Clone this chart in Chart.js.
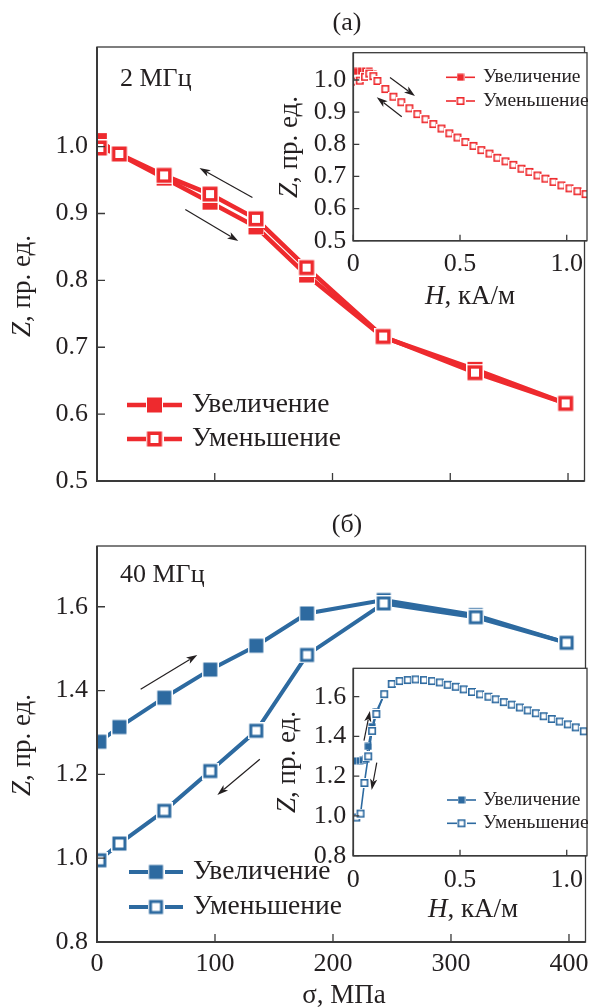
<!DOCTYPE html>
<html>
<head>
<meta charset="utf-8">
<script src="https://cdn.jsdelivr.net/npm/chart.js@4.4.0/dist/chart.umd.min.js"></script>
<style>
  html, body { margin: 0; padding: 0; background: #fff; }
  #page { position: relative; width: 598px; height: 1007px; overflow: hidden; }
  .box { position: absolute; }
</style>
</head>
<body>
<div id="page">
  <div class="box" style="left:0;top:0;width:598px;height:500px"><canvas id="mainA"></canvas></div>
  <div class="box" style="left:0;top:500px;width:598px;height:507px"><canvas id="mainB"></canvas></div>
  <div class="box" style="left:250px;top:40px;width:348px;height:280px"><canvas id="insetA"></canvas></div>
  <div class="box" style="left:250px;top:655px;width:348px;height:275px"><canvas id="insetB"></canvas></div>
</div>
<script>
// main panels: Z vs sigma
const sigmaMPa = [2, 19, 57, 96, 135, 178, 243, 321, 398];
const z2Up     = [1.009, 0.988, 0.953, 0.917, 0.880, 0.808, 0.715, 0.667, 0.616];
const z2Down   = [0.998, 0.989, 0.957, 0.929, 0.892, 0.819, 0.716, 0.662, 0.616];
const z40Up    = [1.278, 1.313, 1.383, 1.450, 1.507, 1.584, 1.616, 1.580, 1.514];
const z40Down  = [0.995, 1.035, 1.113, 1.208, 1.304, 1.485, 1.608, 1.575, 1.514];

// inset (a): Z vs H at 2 MHz
const hA_up   = [0.0, 0.018, 0.037, 0.056, 0.075, 0.094, 0.113, 0.15];
const zA_up   = [1.027, 1.027, 1.028, 1.028, 1.027, 1.018, 0.998, 0.972];
const hA_down = [0.01, 0.03, 0.055, 0.075, 0.094, 0.113, 0.15, 0.188, 0.225, 0.263, 0.3, 0.338, 0.375,
                 0.413, 0.45, 0.488, 0.525, 0.563, 0.6, 0.638, 0.675, 0.713, 0.75, 0.788, 0.825, 0.863,
                 0.9, 0.938, 0.975, 1.013, 1.05, 1.088];
const zA_down = [0.995, 0.998, 1.01, 1.02, 1.012, 0.997, 0.972, 0.948, 0.931, 0.912, 0.894, 0.878, 0.863,
                 0.849, 0.834, 0.821, 0.807, 0.795, 0.782, 0.771, 0.758, 0.747, 0.736, 0.724, 0.714, 0.703,
                 0.693, 0.683, 0.672, 0.663, 0.654, 0.645];

// inset (b): Z vs H at 40 MHz
const hB_up   = [0.003, 0.016, 0.03, 0.045, 0.058, 0.07, 0.088, 0.108, 0.145];
const zB_up   = [1.277, 1.277, 1.278, 1.28, 1.285, 1.35, 1.45, 1.525, 1.613];
const hB_down = [0.014, 0.034, 0.052, 0.07, 0.088, 0.108, 0.145, 0.18, 0.217, 0.255, 0.292, 0.331, 0.369,
                 0.405, 0.442, 0.48, 0.517, 0.556, 0.594, 0.633, 0.667, 0.705, 0.742, 0.78, 0.817, 0.855,
                 0.892, 0.93, 0.967, 1.005, 1.042, 1.08];
const zB_down = [0.992, 1.012, 1.166, 1.30, 1.428, 1.513, 1.613, 1.664, 1.679, 1.684, 1.687, 1.684, 1.679,
                 1.672, 1.66, 1.65, 1.637, 1.624, 1.612, 1.60, 1.587, 1.573, 1.56, 1.546, 1.531, 1.517,
                 1.502, 1.488, 1.475, 1.461, 1.446, 1.426];

const sigmaTicks = [0, 100, 200, 300, 400];
const zTicksA = [0.5, 0.6, 0.7, 0.8, 0.9, 1.0];
const zTicksB = [0.8, 1.0, 1.2, 1.4, 1.6];
const hTicks = [0, 0.5, 1.0];
const seriesNames = ['Увеличение', 'Уменьшение'];

const RED = '#ee2a2e';
const BLUE = '#2d6aa0';
const INK = '#231f20';
const SERIF = '"Liberation Serif", "DejaVu Serif", serif';

Chart.defaults.animation = false;

function marker(side, ring, halo, color, filled) {
    const s = Math.ceil(side + 2 * halo);
    const c = document.createElement('canvas');
    c.width = c.height = s;
    const g = c.getContext('2d');
    const o = (s - side) / 2;
    g.fillStyle = '#fff';
    g.fillRect(0, 0, s, s);
    g.fillStyle = color;
    g.fillRect(o, o, side, side);
    if (!filled) {
        g.fillStyle = '#fff';
        g.fillRect(o + ring, o + ring, side - 2 * ring, side - 2 * ring);
    }
    return c;
}

function rich(ctx, parts, x, y, size, align, rot) {
    ctx.save();
    ctx.translate(x, y);
    if (rot) ctx.rotate(rot);
    ctx.textBaseline = 'middle';
    ctx.textAlign = 'left';
    ctx.fillStyle = INK;
    const font = p => (p.i ? 'italic ' : '') + size + 'px ' + SERIF;
    let total = 0;
    parts.forEach(p => { ctx.font = font(p); total += ctx.measureText(p.t).width; });
    let cx = align === 'center' ? -total / 2 : align === 'right' ? -total : 0;
    parts.forEach(p => {
        ctx.font = font(p);
        ctx.fillText(p.t, cx, 0);
        cx += ctx.measureText(p.t).width;
    });
    ctx.restore();
}

function arrow(ctx, x1, y1, x2, y2) {
    const a = Math.atan2(y2 - y1, x2 - x1);
    const L = 11, W = 3.6;
    ctx.save();
    ctx.strokeStyle = INK;
    ctx.fillStyle = INK;
    ctx.lineWidth = 1.2;
    ctx.beginPath();
    ctx.moveTo(x1, y1);
    ctx.lineTo(x2 - Math.cos(a) * L * 0.8, y2 - Math.sin(a) * L * 0.8);
    ctx.stroke();
    ctx.translate(x2, y2);
    ctx.rotate(a);
    ctx.beginPath();
    ctx.moveTo(0, 0);
    ctx.lineTo(-L, -W);
    ctx.lineTo(-L * 0.75, 0);
    ctx.lineTo(-L, W);
    ctx.closePath();
    ctx.fill();
    ctx.restore();
}

const decor = {
    id: 'decor',
    beforeDraw(chart, args, o) {
        const a = chart.chartArea, ctx = chart.ctx;
        if (o.fillArea) {
            ctx.save();
            ctx.fillStyle = '#fff';
            ctx.fillRect(a.left, a.top, a.right - a.left, a.bottom - a.top);
            ctx.restore();
        }
    },
    afterDraw(chart, args, o) {
        const a = chart.chartArea, ctx = chart.ctx;
        const xs = chart.scales.x, ys = chart.scales.y;
        ctx.save();
        // frame
        ctx.strokeStyle = '#3a3a3a';
        ctx.lineWidth = o.frameWidth;
        ctx.strokeRect(a.left, a.top, a.right - a.left, a.bottom - a.top);
        ctx.lineWidth = o.axisWidth;
        ctx.beginPath();
        ctx.moveTo(a.left, a.top);
        ctx.lineTo(a.left, a.bottom);
        ctx.lineTo(a.right, a.bottom);
        ctx.stroke();
        // inward ticks
        ctx.lineWidth = 1.3;
        ctx.beginPath();
        o.xTicks.forEach(v => {
            const px = xs.getPixelForValue(v);
            ctx.moveTo(px, a.bottom);
            ctx.lineTo(px, a.bottom - o.tickLen);
        });
        o.yTicks.forEach(v => {
            const py = ys.getPixelForValue(v);
            ctx.moveTo(a.left, py);
            ctx.lineTo(a.left + o.tickLen, py);
        });
        ctx.stroke();
        ctx.restore();

        // tick labels
        if (o.xLabels) {
            o.xTicks.forEach((v, i) => {
                rich(ctx, [{ t: o.xLabels[i] }], xs.getPixelForValue(v), a.bottom + o.xLabelGap, o.font, 'center');
            });
        }
        o.yTicks.forEach(v => {
            rich(ctx, [{ t: v.toFixed(1) }], a.left - o.yLabelGap, ys.getPixelForValue(v), o.font, 'right');
        });

        // free texts (axis titles, panel labels)
        (o.texts || []).forEach(t => rich(ctx, t.parts, t.x, t.y, t.size || o.font, t.align || 'center', t.rot));

        // arrows in data coordinates
        (o.arrows || []).forEach(r => arrow(ctx,
            xs.getPixelForValue(r[0]), ys.getPixelForValue(r[1]),
            xs.getPixelForValue(r[2]), ys.getPixelForValue(r[3])));

        // legend: line - marker - line, then label
        if (o.legend) {
            const lg = o.legend;
            chart.data.datasets.forEach((ds, i) => {
                const y = lg.rows[i];
                ctx.save();
                ctx.strokeStyle = ds.borderColor;
                ctx.lineWidth = ds.borderWidth;
                ctx.beginPath();
                ctx.moveTo(lg.x1, y);
                ctx.lineTo(lg.x2, y);
                ctx.stroke();
                const img = ds.pointStyle;
                ctx.drawImage(img, (lg.x1 + lg.x2) / 2 - img.width / 2, y - img.height / 2);
                ctx.restore();
                rich(ctx, [{ t: ds.label }], lg.textX, y + lg.dy, lg.size, 'left');
            });
        }
    }
};

function series(label, xs, ys, color, width, img, order) {
    return {
        label: label,
        data: xs.map((x, i) => ({ x: x, y: ys[i] })),
        borderColor: color,
        borderWidth: width,
        pointStyle: img,
        pointRadius: img.width / 2,
        tension: 0,
        order: order
    };
}

function makeChart(id, cfg) {
    const W = cfg.W, H = cfg.H, ar = cfg.area;
    return new Chart(document.getElementById(id), {
        type: 'line',
        data: { datasets: cfg.datasets },
        options: {
            responsive: true,
            maintainAspectRatio: false,
            layout: { padding: { left: ar.left, top: ar.top, right: W - ar.right, bottom: H - ar.bottom } },
            scales: {
                x: { type: 'linear', display: false, min: cfg.xMin, max: cfg.xMax },
                y: { type: 'linear', display: false, min: cfg.yMin, max: cfg.yMax }
            },
            plugins: {
                legend: { display: false },
                tooltip: { enabled: false },
                decor: cfg.decor
            }
        },
        plugins: [decor]
    });
}

const zTitle = [{ t: 'Z', i: true }, { t: ', пр. ед.' }];
const hTitle = [{ t: 'H', i: true }, { t: ', кА/м' }];

// panel (a)
makeChart('mainA', {
    W: 598, H: 500,
    area: { left: 97, top: 47, right: 596, bottom: 481 },
    xMin: 0, xMax: 414, yMin: 0.5, yMax: 1.149,
    datasets: [
        series(seriesNames[0], sigmaMPa, z2Up, RED, 4.5, marker(15, 4, 1, RED, true), 2),
        series(seriesNames[1], sigmaMPa, z2Down, RED, 4.5, marker(15, 3.5, 1.5, RED, false), 1)
    ],
    decor: {
        frameWidth: 1.3, axisWidth: 2, tickLen: 8, font: 26,
        xTicks: sigmaTicks, xLabels: null, yTicks: zTicksA, yLabelGap: 9,
        texts: [
            { parts: [{ t: '(а)' }], x: 347, y: 23 },
            { parts: [{ t: '2 МГц' }], x: 120, y: 79, align: 'left' },
            { parts: zTitle, x: 23, y: 286, rot: -Math.PI / 2, size: 27 }
        ],
        arrows: [[132, 0.924, 87, 0.968], [75, 0.906, 120, 0.859]],
        legend: { x1: 127, x2: 182, textX: 192, rows: [405, 439], dy: 0, size: 27.5 }
    }
});

// panel (b)
makeChart('mainB', {
    W: 598, H: 507,
    area: { left: 97, top: 46, right: 596, bottom: 442 },
    xMin: 0, xMax: 414, yMin: 0.8, yMax: 1.745,
    datasets: [
        series(seriesNames[0], sigmaMPa, z40Up, BLUE, 4, marker(14, 3, 1.5, BLUE, true), 2),
        series(seriesNames[1], sigmaMPa, z40Down, BLUE, 4, marker(14, 3, 1.5, BLUE, false), 1)
    ],
    decor: {
        frameWidth: 1.3, axisWidth: 2, tickLen: 8, font: 26,
        xTicks: sigmaTicks, xLabels: sigmaTicks.map(String), xLabelGap: 22, yTicks: zTicksB, yLabelGap: 9,
        texts: [
            { parts: [{ t: '(б)' }], x: 347, y: 25 },
            { parts: [{ t: '40 МГц' }], x: 120, y: 75, align: 'left' },
            { parts: zTitle, x: 23, y: 245, rot: -Math.PI / 2, size: 27 },
            { parts: [{ t: 'σ, МПа' }], x: 344, y: 496, size: 27 }
        ],
        arrows: [[37, 1.403, 85, 1.485], [138, 1.236, 102, 1.151]],
        legend: { x1: 129, x2: 183, textX: 193, rows: [372, 407], dy: 0, size: 27.5 }
    }
});

// inset (a)
makeChart('insetA', {
    W: 348, H: 280,
    area: { left: 103.3, top: 12.7, right: 337, bottom: 200.7 },
    xMin: 0, xMax: 1.095, yMin: 0.5, yMax: 1.085,
    datasets: [
        series(seriesNames[0], hA_up, zA_up, RED, 1.6, marker(7, 2, 0.5, RED, true), 2),
        series(seriesNames[1], hA_down, zA_down, RED, 1.6, marker(8, 1.6, 0.6, RED, false), 1)
    ],
    decor: {
        fillArea: true, frameWidth: 1.3, axisWidth: 1.6, tickLen: 6, font: 26,
        xTicks: hTicks, xLabels: ['0', '0.5', '1.0'], xLabelGap: 23, yTicks: zTicksA, yLabelGap: 7,
        texts: [
            { parts: zTitle, x: 40, y: 107, rot: -Math.PI / 2, size: 27 },
            { parts: hTitle, x: 220, y: 257, size: 27 }
        ],
        arrows: [[0.172, 1.008, 0.289, 0.950], [0.227, 0.886, 0.110, 0.946]],
        legend: { x1: 196, x2: 225, textX: 233, rows: [37.3, 61], dy: 0, size: 19.5 }
    }
});

// inset (b)
makeChart('insetB', {
    W: 348, H: 275,
    area: { left: 103.3, top: 13.3, right: 337, bottom: 200.7 },
    xMin: 0, xMax: 1.095, yMin: 0.8, yMax: 1.743,
    datasets: [
        series(seriesNames[0], hB_up, zB_up, BLUE, 1.6, marker(7, 2, 0.5, BLUE, true), 2),
        series(seriesNames[1], hB_down, zB_down, BLUE, 1.6, marker(8, 1.6, 0.6, BLUE, false), 1)
    ],
    decor: {
        fillArea: true, frameWidth: 1.3, axisWidth: 1.6, tickLen: 6, font: 26,
        xTicks: hTicks, xLabels: ['0', '0.5', '1.0'], xLabelGap: 24, yTicks: zTicksB, yLabelGap: 7,
        texts: [
            { parts: zTitle, x: 38, y: 107, rot: -Math.PI / 2, size: 27 },
            { parts: hTitle, x: 223, y: 255, size: 27 }
        ],
        arrows: [[0.05, 1.379, 0.078, 1.528], [0.110, 1.268, 0.086, 1.131]],
        legend: { x1: 197, x2: 226, textX: 233, rows: [145, 168.3], dy: 0, size: 19.5 }
    }
});
</script>
</body>
</html>
